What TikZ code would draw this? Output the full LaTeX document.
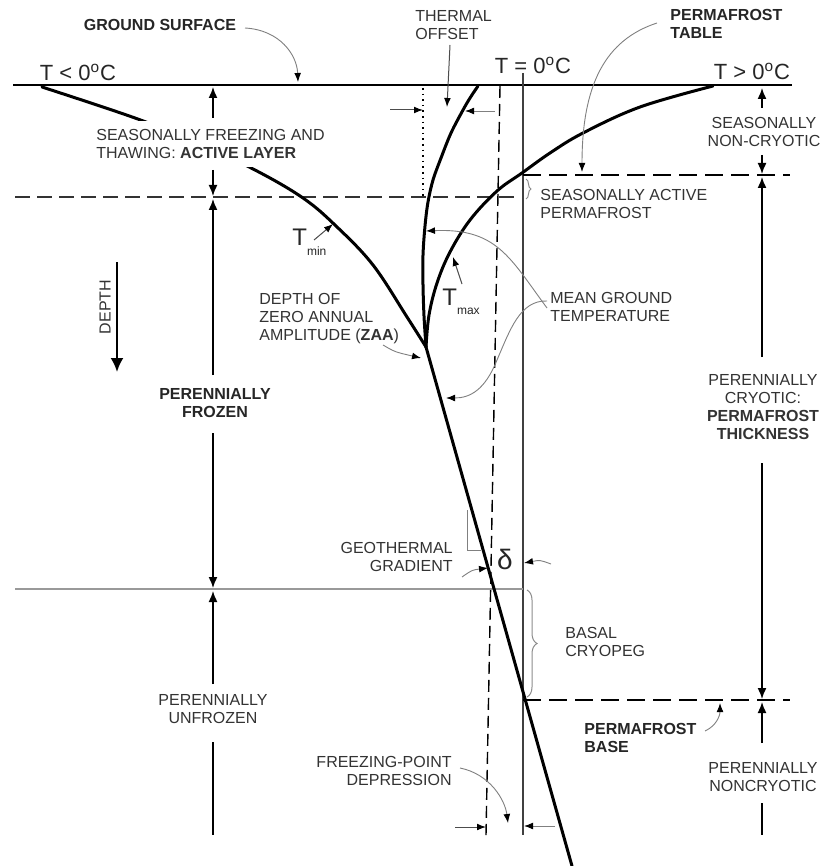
\documentclass[tikz,border=0pt]{standalone}
\usepackage{fontspec}
\setmainfont{Liberation Sans}
\usetikzlibrary{arrows.meta,decorations.pathreplacing}
\begin{document}
\begin{tikzpicture}[x=0.5pt,y=-0.5pt,
  lbl/.style={font=\fontsize{8}{9}\selectfont, text=black!80, inner sep=1pt},
  blbl/.style={font=\fontsize{8}{9}\selectfont\bfseries, text=black!85, inner sep=1pt},
  tlbl/.style={font=\fontsize{11}{13}\selectfont, text=black!85, inner sep=1pt},
  bigt/.style={font=\fontsize{12}{13}\selectfont, text=black!85, inner sep=1pt},
  curvethick/.style={line width=1.5pt, line cap=round},
  leader/.style={draw=black!50, line width=0.45pt, -{Latex[length=4.5pt,width=3.4pt,black]}},
  pointer/.style={draw=black!70, line width=0.5pt, -{Latex[length=4.5pt,width=3.4pt,black]}},
  dimarrow/.style={line width=0.75pt, -{Latex[length=5.5pt,width=4.5pt]}},
  dimline/.style={line width=0.75pt},
  ldash/.style={line width=0.85pt, dash pattern=on 7.5pt off 3.5pt},
  rdash/.style={line width=0.9pt, dash pattern=on 9pt off 4pt},
]
\useasboundingbox (0,0) rectangle (822,866);
\fill[white] (0,0) rectangle (822,866);

% ---------- coordinates ----------
\coordinate (gsL) at (13,85);
\coordinate (gsR) at (792,85);
\coordinate (zeroTop) at (523,73);
\coordinate (zeroBot) at (523,835);
\coordinate (fpTop) at (500,86);
\coordinate (fpBot) at (486,835);
\coordinate (dotTop) at (423,88);
\coordinate (dotBot) at (423,196);
\coordinate (zaa) at (426,347);
\coordinate (geoEnd) at (572,866);
\coordinate (alL) at (15,197);
\coordinate (alR) at (520,197);
\coordinate (ptL) at (523,175);
\coordinate (ptR) at (790,175);
\coordinate (cpL) at (15,589);
\coordinate (cpR) at (523,589);
\coordinate (pbL) at (523,700);
\coordinate (pbR) at (790,700);

% ---------- reference lines ----------
\draw[line width=0.8pt] (gsL) -- (gsR);
\draw[line width=0.6pt, black!75] (zeroTop) -- (zeroBot);
\draw[line width=0.7pt, dash pattern=on 6pt off 3pt] (fpTop) -- (fpBot);
\draw[line width=0.8pt, dotted] (dotTop) -- (dotBot);
\draw[ldash, black!80] (alL) -- (alR);
\draw[rdash] (ptL) -- (ptR);
\draw[line width=0.6pt, black!40] (cpL) -- (cpR);
\draw[rdash] (pbL) -- (pbR);

% ---------- temperature curves ----------
\draw[curvethick] plot[smooth, tension=0.6] coordinates {(713,86) (640,107) (583,133) (550,153) (522,173) (497,191) (470,220) (450,252) (437,283) (429,315) (426,347)};
\draw[curvethick] plot[smooth, tension=0.55] coordinates {(478,86) (470,98) (463,110) (451,133) (441,158) (433,180) (428,202) (425,226) (423,255) (423,285) (424,316) (426,347)};
\draw[curvethick] plot[smooth, tension=0.6] coordinates {(42,87) (135,118) (195,142) (255,170) (303,198) (336,226) (373,265) (407,317) (426,347)};
\draw[curvethick] (zaa) -- (geoEnd);

% ---------- text labels ----------
\node[blbl] (gs) at (160,25) {GROUND SURFACE};
\node[lbl, anchor=west, align=left] (to) at (413,25) {THERMAL\\OFFSET};
\node[blbl, anchor=west, align=left] (pt) at (668,24) {PERMAFROST\\TABLE};
\node[tlbl] (tneg) at (78,72) {T < 0\textsuperscript{o}C};
\node[tlbl] (tzero) at (533,65) {T = 0\textsuperscript{o}C};
\node[tlbl] (tpos) at (752,71) {T > 0\textsuperscript{o}C};
\node[lbl, anchor=west, align=left, fill=white, inner sep=4pt] (al) at (88,144) {SEASONALLY FREEZING AND\\THAWING: \textbf{ACTIVE LAYER}};
\node[lbl, align=center] (snc) at (764,132) {SEASONALLY\\NON-CRYOTIC};
\node[lbl, anchor=west, align=left] (sap) at (538,204) {SEASONALLY ACTIVE\\PERMAFROST};
\node[bigt, anchor=west] (tmin) at (290,242) {T\raisebox{-0.4em}{\fontsize{6}{6}\selectfont min}};
\node[lbl, rotate=90] (depth) at (105,307) {DEPTH};
\node[lbl, anchor=west, align=left] (zaat) at (257,319) {DEPTH OF\\ZERO ANNUAL\\AMPLITUDE (\textbf{ZAA})};
\node[bigt, anchor=west] (tmax) at (440,302) {T\raisebox{-0.4em}{\fontsize{6}{6}\selectfont max}};
\node[lbl, anchor=west, align=left] (mgt) at (548,307) {MEAN GROUND\\TEMPERATURE};
\node[blbl, align=center] (pf) at (215,403) {PERENNIALLY\\FROZEN};
\node[lbl, align=center] (pc) at (763,407) {PERENNIALLY\\CRYOTIC:\\\textbf{PERMAFROST}\\\textbf{THICKNESS}};
\node[lbl, anchor=east, align=right] (gg) at (455,557) {GEOTHERMAL\\GRADIENT};
\node[font=\fontsize{14}{15}\selectfont, text=black!85, inner sep=0pt] (delta) at (505,559) {δ};
\node[lbl, anchor=west, align=left] (bc) at (563,642) {BASAL\\CRYOPEG};
\node[lbl, align=center] (pu) at (213,709) {PERENNIALLY\\UNFROZEN};
\node[blbl, anchor=west, align=left] (pb) at (582,738) {PERMAFROST\\BASE};
\node[lbl, align=center] (pn) at (763,777) {PERENNIALLY\\NONCRYOTIC};
\node[lbl, anchor=east, align=right] (fpd) at (454,771) {FREEZING-POINT\\DEPRESSION};

% ---------- left dimension arrows ----------
\coordinate (l1a) at (213,118); \coordinate (l1b) at (213,87);
\coordinate (l2a) at (213,170); \coordinate (l2b) at (213,196);
\coordinate (l3a) at (213,375); \coordinate (l3b) at (213,199);
\coordinate (l4a) at (213,433); \coordinate (l4b) at (213,588);
\coordinate (l5a) at (213,684); \coordinate (l5b) at (213,591);
\coordinate (l6a) at (213,742); \coordinate (l6b) at (213,835);
\draw[dimarrow] (l1a) -- (l1b);
\draw[dimarrow] (l2a) -- (l2b);
\draw[dimarrow] (l3a) -- (l3b);
\draw[dimarrow] (l4a) -- (l4b);
\draw[dimarrow] (l5a) -- (l5b);
\draw[dimline] (l6a) -- (l6b);

% ---------- right dimension arrows ----------
\coordinate (r1a) at (762,108); \coordinate (r1b) at (762,88);
\coordinate (r2a) at (762,155); \coordinate (r2b) at (762,174);
\coordinate (r3a) at (762,357); \coordinate (r3b) at (762,177);
\coordinate (r4a) at (762,463); \coordinate (r4b) at (762,699);
\coordinate (r5a) at (762,743); \coordinate (r5b) at (762,702);
\coordinate (r6a) at (762,803); \coordinate (r6b) at (762,835);
\draw[dimarrow] (r1a) -- (r1b);
\draw[dimarrow] (r2a) -- (r2b);
\draw[dimarrow] (r3a) -- (r3b);
\draw[dimarrow] (r4a) -- (r4b);
\draw[dimarrow] (r5a) -- (r5b);
\draw[dimline] (r6a) -- (r6b);

% ---------- depth arrow ----------
\coordinate (dA) at (117,262); \coordinate (dB) at (117,372);
\draw[line width=1.1pt, -{Latex[length=7pt,width=6.5pt]}] (dA) -- (dB);

% ---------- thermal offset marks ----------
\coordinate (toL) at (390,110); \coordinate (toLt) at (423,110);
\coordinate (toR) at (495,111); \coordinate (toRt) at (465,111);
\coordinate (toA) at (450,45); \coordinate (toAt) at (447,107);
\draw[pointer] (toL) -- (toLt);
\draw[leader] (toR) -- (toRt);
\draw[pointer] (toA) -- (toAt);

% ---------- leaders ----------
\coordinate (gsA) at (245,28); \coordinate (gsT) at (298,82);
\draw[leader] (gsA) .. controls (280,30) and (297,55) .. (gsT);
\coordinate (ptA) at (657,23); \coordinate (ptT) at (582,172);
\draw[leader] (ptA) .. controls (605,40) and (582,85) .. (ptT);
\coordinate (zaaA) at (383,345); \coordinate (zaaT) at (421,358);
\draw[leader] (zaaA) .. controls (395,352) .. (zaaT);
\coordinate (tminA) at (314,240); \coordinate (tminT) at (333,224);
\draw[pointer] (tminA) -- (tminT);
\coordinate (tmaxA) at (462,284); \coordinate (tmaxT) at (453,257);
\draw[pointer] (tmaxA) -- (tmaxT);
\coordinate (mg1A) at (547,308); \coordinate (mg1T) at (426,231);
\draw[leader] (mg1A) .. controls (510,258) and (497,228) .. (mg1T);
\coordinate (mg2A) at (547,301); \coordinate (mg2M) at (497,360); \coordinate (mg2T) at (446,398);
\draw[leader] (mg2A) .. controls (520,300) and (510,330) .. (mg2M) .. controls (485,390) and (470,398) .. (mg2T);
\coordinate (ggA) at (462,577); \coordinate (ggT) at (488,568);
\draw[leader] (ggA) .. controls (472,570) .. (ggT);
\coordinate (gs1) at (467,510); \coordinate (gs2) at (467,550); \coordinate (gs3) at (481,550);
\draw[black!50, line width=0.5pt] (gs1) -- (gs2) -- (gs3);
\coordinate (dlA) at (551,564); \coordinate (dlT) at (524,563);
\draw[leader] (dlA) .. controls (540,560) .. (dlT);
\coordinate (pbA) at (705,731); \coordinate (pbT) at (720,703);
\draw[leader] (pbA) .. controls (716,726) and (720,716) .. (pbT);
\coordinate (fpA) at (460,768); \coordinate (fpT) at (508,823);
\draw[leader] (fpA) .. controls (490,774) and (505,800) .. (fpT);
\coordinate (bL) at (455,827); \coordinate (bLt) at (486,827);
\coordinate (bR) at (555,826); \coordinate (bRt) at (524,826);
\draw[pointer] (bL) -- (bLt);
\draw[leader] (bR) -- (bRt);

% ---------- braces ----------
\coordinate (br1a) at (527,590); \coordinate (br1b) at (527,697);
\draw[black!45, line width=0.5pt, decorate, decoration={brace, amplitude=5pt}] (br1a) -- (br1b);
\coordinate (br2a) at (526,179); \coordinate (br2b) at (526,199);
\draw[black!45, line width=0.5pt, decorate, decoration={brace, amplitude=2.5pt}] (br2a) -- (br2b);
\end{tikzpicture}
\end{document}
